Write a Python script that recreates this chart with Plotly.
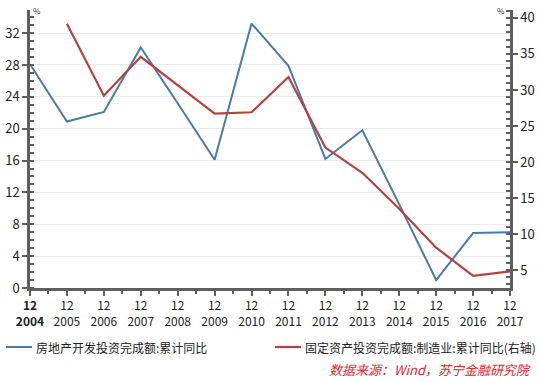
import plotly.graph_objects as go

years = list(range(2004, 2018))
tick_text = ["<b>12</b><br><b>2004</b>"] + [f"12<br>{y}" for y in years[1:]]
real_estate = [28.1, 20.9, 22.1, 30.2, 23.2, 16.1, 33.2, 27.9, 16.2, 19.8, 10.5, 1.0, 6.9, 7.0]
manufacturing = [None, 39.2, 29.2, 34.6, 30.7, 26.7, 26.9, 31.8, 22.0, 18.5, 13.5, 8.1, 4.2, 4.8]

name1 = "房地产开发投资完成额:累计同比"
name2 = "固定资产投资完成额:制造业:累计同比(右轴)"

BLUE = "#4a7aab"
RED = "#b4423f"
AX = "#5e5e5e"
FONT = "Noto Sans CJK SC"

# plot area in pixels
L, R, T, B = 30, 510, 10, 288
W, H = 541, 382
PW, PH = R - L, B - T


def px(x):
    return (x - L) / PW


def py(y):
    return (B - y) / PH


fig = go.Figure()
fig.add_trace(go.Scatter(x=years, y=real_estate, name=name1, mode="lines",
                         line=dict(color=BLUE, width=2), yaxis="y", showlegend=False))
fig.add_trace(go.Scatter(x=years, y=manufacturing, name=name2, mode="lines",
                         line=dict(color=RED, width=2.2), yaxis="y2", showlegend=False,
                         connectgaps=False))

shapes = [
    dict(type="line", xref="paper", yref="paper", x0=px(6), x1=px(32), y0=py(347), y1=py(347),
         line=dict(color=BLUE, width=2)),
    dict(type="line", xref="paper", yref="paper", x0=px(275), x1=px(301), y0=py(347), y1=py(347),
         line=dict(color=RED, width=2.2)),
]

fig.update_layout(
    width=W, height=H,
    margin=dict(l=L, r=W - R, t=T, b=H - B),
    paper_bgcolor="white", plot_bgcolor="white",
    font=dict(family=FONT, size=12, color="#222"),
    showlegend=False,
    xaxis=dict(range=[2004, 2017], tickvals=years, ticktext=tick_text, tickangle=0, automargin=False,
               showline=True, linecolor=AX, linewidth=2.5, ticks="outside",
               ticklen=5, tickwidth=2, tickcolor=AX, showgrid=False, zeroline=False,
               tickfont=dict(size=12, color="#222"),
               minor=dict(dtick=0.5, tick0=2004, ticks="outside", ticklen=3, tickwidth=1.5, tickcolor=AX)),
    yaxis=dict(range=[0, 34.9], dtick=4, tick0=0, showline=True, linecolor=AX, linewidth=2.5,
               automargin=False, ticks="outside", ticklen=5, tickwidth=2, tickcolor=AX,
               showgrid=True, gridcolor="#ebebeb", gridwidth=1, zeroline=False,
               tickfont=dict(size=13, color="#222"),
               minor=dict(dtick=1, ticks="inside", ticklen=4, tickwidth=1.5, tickcolor=AX, showgrid=False)),
    yaxis2=dict(range=[2.5, 41.1], dtick=5, tick0=0, overlaying="y", side="right",
                automargin=False, showline=True, linecolor=AX, linewidth=2.5, ticks="outside", ticklen=5,
                tickwidth=2, tickcolor=AX, showgrid=False, zeroline=False,
                tickfont=dict(size=13, color="#222"),
                minor=dict(dtick=1, ticks="inside", ticklen=4, tickwidth=1.5, tickcolor=AX)),
    shapes=shapes,
    annotations=[
        dict(text="%", x=0, y=1, xref="paper", yref="paper", xanchor="left", yanchor="middle",
             xshift=1, showarrow=False, font=dict(size=8, color="#333")),
        dict(text="%", x=1, y=1, xref="paper", yref="paper", xanchor="right", yanchor="middle",
             xshift=-3, showarrow=False, font=dict(size=8, color="#333")),
        dict(text=name1, x=px(34), y=py(347), xref="paper", yref="paper", xanchor="left",
             yanchor="middle", showarrow=False, font=dict(size=12, color="#222")),
        dict(text=name2, x=px(303), y=py(347), xref="paper", yref="paper", xanchor="left",
             yanchor="middle", showarrow=False, font=dict(size=12, color="#222")),
        dict(text="<i>数据来源：Wind，苏宁金融研究院</i>", x=px(533), y=py(369), xref="paper", yref="paper",
             xanchor="right", yanchor="middle", showarrow=False,
             font=dict(size=13, color="#e0262a")),
    ],
)

fig.write_html("out.html", config={"displayModeBar": False},
               post_script="document.body.style.margin='0';document.body.style.overflow='hidden';")
